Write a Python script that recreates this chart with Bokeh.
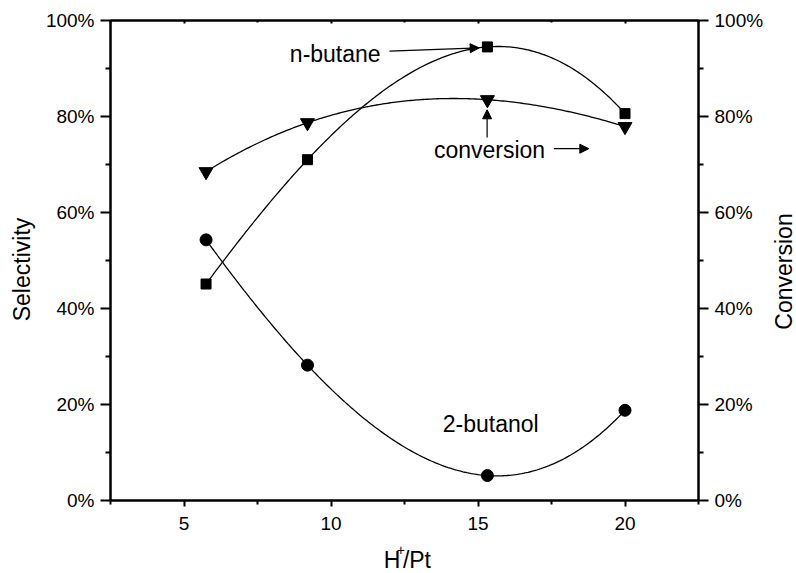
import math
import numpy as np
from bokeh.plotting import figure
from bokeh.layouts import row, column
from bokeh.models import (Range1d, LinearAxis, FixedTicker, PrintfTickFormatter,
                          Label, Arrow, NormalHead, ColumnDataSource)
from bokeh.embed import file_html
from bokeh.resources import INLINE

# ---- data ----
h_pt = [5.75, 9.2, 15.32, 20.0]
n_butane = [45.1, 71.0, 94.5, 80.6]
conversion = [68.5, 78.7, 83.5, 77.9]
two_butanol = [54.3, 28.2, 5.2, 18.8]
x_ticks = [5, 10, 15, 20]
x_minor = [2.5, 7.5, 12.5, 17.5, 22.5]
y_ticks = [0, 20, 40, 60, 80, 100]
y_minor = [10, 30, 50, 70, 90]

FONT = "Liberation Sans"

p = figure(width=726, height=541, output_backend="svg", toolbar_location=None,
           x_range=Range1d(2.5, 22.5), y_range=Range1d(0, 100),
           min_border_left=70, min_border_right=66, min_border_top=20,
           min_border_bottom=41, x_axis_location="below")
p.grid.visible = False
p.outline_line_color = "black"
p.outline_line_width = 2
p.background_fill_color = "white"
p.border_fill_color = "white"

xtick = FixedTicker(ticks=x_ticks, minor_ticks=x_minor)
ytick = FixedTicker(ticks=y_ticks, minor_ticks=y_minor)
fmt = PrintfTickFormatter(format="%d%%")

def style_axis(ax):
    ax.axis_line_width = 2
    ax.axis_line_color = "black"
    ax.major_tick_line_width = 2
    ax.minor_tick_line_width = 2
    ax.major_tick_line_color = "black"
    ax.minor_tick_line_color = "black"
    ax.major_label_text_font = FONT
    ax.major_label_text_font_size = "19px"
    ax.major_label_text_color = "black"
    ax.major_tick_in = 0
    ax.minor_tick_in = 0

# bottom axis
xa = p.xaxis[0]
xa.ticker = xtick
style_axis(xa)
xa.major_tick_out = 6
xa.minor_tick_out = 4
xa.major_label_standoff = 10

# left axis
ya = p.yaxis[0]
ya.ticker = ytick
ya.formatter = fmt
style_axis(ya)
ya.major_tick_out = 10
ya.minor_tick_out = 5
ya.major_label_standoff = 6

# right axis
ra = LinearAxis(ticker=ytick, formatter=fmt)
style_axis(ra)
ra.major_tick_out = 10
ra.minor_tick_out = 5
ra.major_label_standoff = 6
p.add_layout(ra, "right")

# top axis (ticks only)
ta = LinearAxis(ticker=xtick)
style_axis(ta)
ta.major_tick_out = 0
ta.minor_tick_out = 0
ta.major_tick_in = 3
ta.minor_tick_in = 2
ta.major_label_text_font_size = "0px"
ta.major_label_text_alpha = 0
p.add_layout(ta, "above")

# smooth curves through the data (cubic through the 4 points)
xs = np.linspace(min(h_pt), max(h_pt), 200)
for ys in (n_butane, conversion, two_butanol):
    coef = np.polyfit(h_pt, ys, 3)
    p.line(xs, np.polyval(coef, xs), line_color="black", line_width=1.3)

src = ColumnDataSource(dict(x=h_pt, nb=n_butane, cv=conversion, tb=two_butanol))
p.scatter("x", "nb", source=src, marker="square", size=10, color="black")
p.scatter("x", "cv", source=src, marker="inverted_triangle", size=14, color="black")
p.scatter("x", "tb", source=src, marker="circle", size=12, color="black")

def lab(fig, x, y, t, size="23px", angle=0.0, align="left", baseline="alphabetic"):
    fig.add_layout(Label(x=x, y=y, text=t, text_font=FONT, text_font_size=size,
                         text_color="black", text_align=align, angle=angle,
                         text_baseline=baseline))

lab(p, 8.6, 93.1, "n-butane")
lab(p, 13.5, 73.0, "conversion")
lab(p, 13.8, 15.9, "2-butanol")

def arrow(x0, y0, x1, y1):
    p.add_layout(Arrow(end=NormalHead(size=9, fill_color="black", line_color="black",
                                      line_width=1),
                       x_start=x0, y_start=y0, x_end=x1, y_end=y1,
                       line_color="black", line_width=1.2))

arrow(11.99, 93.6, 15.04, 94.3)
arrow(15.31, 75.6, 15.31, 81.4)
arrow(17.58, 73.3, 18.77, 73.3)

# side strips that carry the axis titles (pixel coordinates)
def blank(w, h):
    f = figure(width=w, height=h, x_range=Range1d(0, w), y_range=Range1d(0, h),
               min_border=0, x_axis_location=None, y_axis_location=None,
               toolbar_location=None, output_backend="svg")
    f.grid.visible = False
    f.outline_line_color = None
    f.background_fill_color = "white"
    f.border_fill_color = "white"
    return f

left = blank(40, 573)
lab(left, 21, 304, "Selectivity", angle=math.pi / 2, align="center", baseline="middle")

right = blank(30, 573)
lab(right, 17, 302, "Conversion", angle=math.pi / 2, align="center", baseline="middle")

bottom = blank(726, 32)
lab(bottom, 337.5, 14.0, "H")
lab(bottom, 353.5, 23.5, "+", size="14px")
lab(bottom, 361.0, 14.0, "/Pt")

layout = row(left, column(p, bottom, spacing=0), right, spacing=0)

open("out.html", "w").write(file_html(layout, INLINE))
